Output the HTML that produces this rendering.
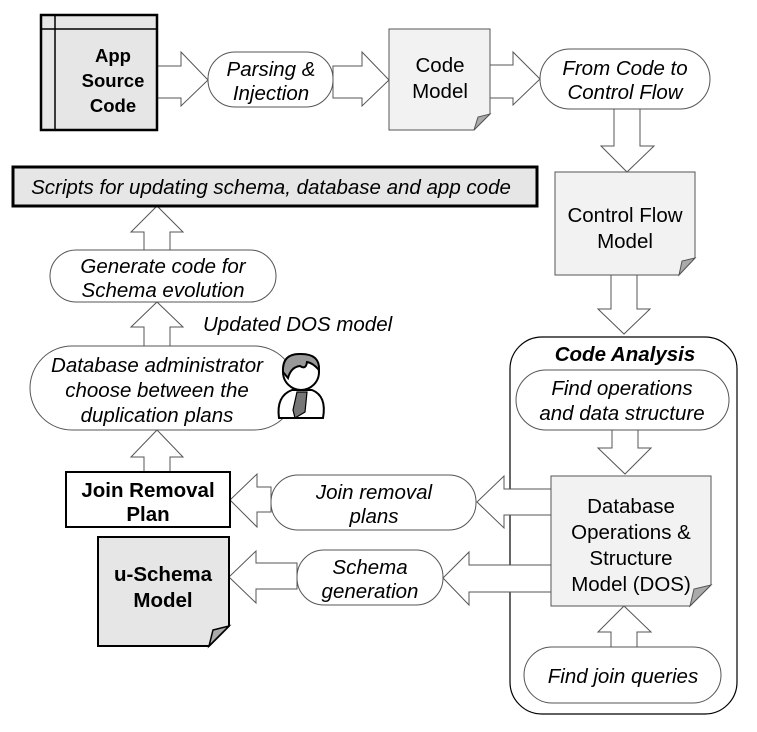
<!DOCTYPE html>
<html><head><meta charset="utf-8"><style>
html,body{margin:0;padding:0;background:#fff}
svg{display:block}
text{font-family:"Liberation Sans",sans-serif;font-size:20.5px;fill:#000}
.i{font-style:italic}
.b{font-weight:bold}
.s{font-size:18.5px}
.ar{fill:#fff;stroke:#555;stroke-width:1}
.pill{fill:#fff;stroke:#555;stroke-width:1}
.doc{fill:#f2f2f2;stroke:#555;stroke-width:1}
.fold{fill:#aaa;stroke:#555;stroke-width:1}
</style></head><body>
<svg width="757" height="732" viewBox="0 0 757 732" xmlns="http://www.w3.org/2000/svg">
<rect x="510" y="337" width="227" height="377" rx="32" fill="#fff" stroke="#000" stroke-width="1.2"/>
<text x="625" y="361" text-anchor="middle" class="i b">Code Analysis</text>

<polygon class="ar" points="157,66 181,66 181,52 208,80 181,106 181,98 157,98"/>
<polygon class="ar" points="333,66 362,66 362,52 389,80 362,106 362,98 333,98"/>
<polygon class="ar" points="490,65 513,65 513,52 540,79 513,105 513,98 490,98"/>
<polygon class="ar" points="614,109 614,146 601,146 627,172 654,146 640,146 640,109"/>
<polygon class="ar" points="611,275 611,309 598,309 624,334 650,309 637,309 637,275"/>
<polygon class="ar" points="612,430 612,448 598,448 625,474 651,448 638,448 638,430"/>
<polygon class="ar" points="611,647 611,632 598,632 624,606 651,632 637,632 637,647"/>
<polygon class="ar" points="551,489 504,489 504,476 477,502 504,528 504,515 551,515"/>
<polygon class="ar" points="271,487 257,487 257,474 230,500 257,527 257,512 271,512"/>
<polygon class="ar" points="551,565 469,565 469,552 443,578 469,605 469,592 551,592"/>
<polygon class="ar" points="297,563 256,563 256,551 229,577 256,603 256,589 297,589"/>
<polygon class="ar" points="144,472 144,457 131,457 157,430 183,457 170,457 170,472"/>
<polygon class="ar" points="144,346 144,327 131,327 157,302 183,327 170,327 170,346"/>
<polygon class="ar" points="144,250 144,232 131,232 157,206 183,232 170,232 170,250"/>

<rect x="41" y="15" width="116" height="115" fill="#e6e6e6" stroke="#000" stroke-width="2.5"/>
<line x1="55" y1="15" x2="55" y2="130" stroke="#000" stroke-width="1.5"/>
<line x1="41" y1="29" x2="157" y2="29" stroke="#000" stroke-width="1.5"/>
<text x="113" y="62" text-anchor="middle" class="b s">App</text>
<text x="113" y="87" text-anchor="middle" class="b s">Source</text>
<text x="113" y="112" text-anchor="middle" class="b s">Code</text>

<rect class="pill" x="208" y="52" width="125" height="55" rx="27"/>
<text x="271" y="76" text-anchor="middle" class="i">Parsing &amp;</text>
<text x="271" y="100" text-anchor="middle" class="i">Injection</text>

<path class="doc" d="M389,29 H490 V114 L474,130 H389 Z"/>
<polygon class="fold" points="490,114 474,130 478,117"/>
<text x="440" y="72" text-anchor="middle">Code</text>
<text x="440" y="98" text-anchor="middle">Model</text>

<rect class="pill" x="540" y="49" width="170" height="60" rx="30"/>
<text x="625" y="75" text-anchor="middle" class="i">From Code to</text>
<text x="625" y="99" text-anchor="middle" class="i">Control Flow</text>

<path class="doc" d="M555,172 H695 V258 L679,275 H555 Z"/>
<polygon class="fold" points="695,258 679,275 682,261"/>
<text x="625" y="222" text-anchor="middle">Control Flow</text>
<text x="625" y="248" text-anchor="middle">Model</text>

<rect x="13" y="167" width="524" height="39" fill="#e6e6e6" stroke="#000" stroke-width="3"/>
<text x="271" y="194" text-anchor="middle" class="i">Scripts for updating schema, database and app code</text>

<rect class="pill" x="50" y="250" width="226" height="52" rx="26"/>
<text x="163" y="273" text-anchor="middle" class="i">Generate code for</text>
<text x="163" y="297" text-anchor="middle" class="i">Schema evolution</text>
<text x="203" y="331" class="i">Updated DOS model</text>

<rect class="pill" x="30" y="346" width="266" height="84" rx="42"/>
<text x="157" y="372" text-anchor="middle" class="i">Database administrator</text>
<text x="157" y="397" text-anchor="middle" class="i">choose between the</text>
<text x="157" y="422" text-anchor="middle" class="i">duplication plans</text>
<g stroke="#000" stroke-width="2">
<path d="M279,418 Q276,396 292,390 L312,390 Q327,396 323,418 Z" fill="#fff"/>
<polygon points="297,392 307,392 305,412 295,418 293,410" fill="#777" stroke-width="1.2"/>
<circle cx="301" cy="372" r="18" fill="#fff"/>
<path d="M283,372 Q282,353 301,354 Q320,354 319,370 Q313,363 307,362 Q306,370 300,366 Q291,367 288,378 Z" fill="#999"/>
</g>

<rect class="pill" x="516" y="370" width="213" height="60" rx="30"/>
<text x="622" y="395" text-anchor="middle" class="i">Find operations</text>
<text x="622" y="420" text-anchor="middle" class="i">and data structure</text>

<path class="doc" d="M551,476 H711 V585 L690,606 H551 Z"/>
<polygon class="fold" points="711,585 690,606 694,589"/>
<text x="631" y="513" text-anchor="middle">Database</text>
<text x="631" y="539" text-anchor="middle">Operations &amp;</text>
<text x="631" y="565" text-anchor="middle">Structure</text>
<text x="631" y="591" text-anchor="middle">Model (DOS)</text>

<rect class="pill" x="524" y="647" width="197" height="56" rx="28"/>
<text x="623" y="683" text-anchor="middle" class="i">Find join queries</text>

<rect class="pill" x="271" y="475" width="205" height="55" rx="27"/>
<text x="374" y="499" text-anchor="middle" class="i">Join removal</text>
<text x="374" y="523" text-anchor="middle" class="i">plans</text>

<rect x="66" y="472" width="164" height="55" fill="#fff" stroke="#000" stroke-width="2"/>
<text x="148" y="497" text-anchor="middle" class="b">Join Removal</text>
<text x="148" y="521" text-anchor="middle" class="b">Plan</text>

<rect class="pill" x="297" y="550" width="146" height="55" rx="27"/>
<text x="370" y="574" text-anchor="middle" class="i">Schema</text>
<text x="370" y="598" text-anchor="middle" class="i">generation</text>

<path d="M98,537 H229 V626 L209,646 H98 Z" fill="#e6e6e6" stroke="#000" stroke-width="2"/>
<polygon points="229,626 209,646 213,630" fill="#aaa" stroke="#000" stroke-width="1.5"/>
<text x="163" y="581" text-anchor="middle" class="b">u-Schema</text>
<text x="163" y="607" text-anchor="middle" class="b">Model</text>
</svg>
</body></html>
